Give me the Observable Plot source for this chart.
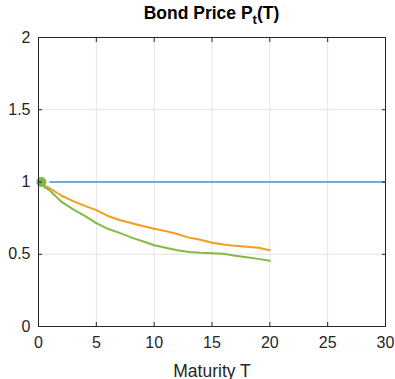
<!DOCTYPE html>
<html><head><meta charset="utf-8">
<script src="https://cdn.jsdelivr.net/npm/d3@7"></script>
<script src="https://cdn.jsdelivr.net/npm/@observablehq/plot@0.6"></script>
<style>
body{margin:0;background:#fff;font-family:"Liberation Sans",Arial,sans-serif;}
#wrap{position:relative;width:395px;height:379px;}
#title{position:absolute;left:38px;width:347px;top:3px;text-align:center;font-weight:bold;font-size:17.5px;color:#000;white-space:nowrap;}
#title sub{font-size:13px;vertical-align:-5px;line-height:0;}
</style></head>
<body><div id="wrap"><div id="title">Bond Price P<sub>t</sub>(T)</div></div>
<script>
const maturity = [0.25, 0.5, 1, 2, 3, 4, 5, 6, 7, 8, 9, 10, 11, 12, 13, 14, 15, 16, 17, 18, 19, 20];
const priceOrange = [1.0, 0.975, 0.955, 0.905, 0.868, 0.835, 0.805, 0.765, 0.737, 0.716, 0.695, 0.676, 0.66, 0.64, 0.615, 0.6, 0.58, 0.568, 0.558, 0.552, 0.545, 0.527];
const priceGreen = [1.0, 0.965, 0.94, 0.862, 0.81, 0.766, 0.715, 0.676, 0.648, 0.617, 0.59, 0.562, 0.545, 0.527, 0.516, 0.51, 0.507, 0.503, 0.49, 0.48, 0.468, 0.455];
const flatT = [1, 30];
const flatP = [1, 1];
const startT = [0.25];
const startP = [1];
const xTicks = [0, 5, 10, 15, 20, 25, 30];
const yTicks = [0, 0.5, 1, 1.5, 2];

const orange = maturity.map((t, i) => ({t, p: priceOrange[i]}));
const green = maturity.map((t, i) => ({t, p: priceGreen[i]}));
const flat = flatT.map((t, i) => ({t, p: flatP[i]}));
const start = startT.map((t, i) => ({t, p: startP[i]}));

const ink = "#262626";
const fmt = d => String(d);
const chart = Plot.plot({
  width: 395, height: 379,
  marginLeft: 38, marginRight: 10, marginTop: 37, marginBottom: 53,
  style: {fontFamily: "Liberation Sans, Arial, sans-serif", fontSize: "16px", color: ink, background: "transparent"},
  x: {domain: [0, 30], ticks: xTicks},
  y: {domain: [0, 2], ticks: yTicks},
  marks: [
    Plot.gridX(xTicks, {stroke: "#e3e3e3", strokeOpacity: 1}),
    Plot.gridY(yTicks, {stroke: "#e3e3e3", strokeOpacity: 1}),
    Plot.line(flat, {x: "t", y: "p", stroke: "#4592d3", strokeWidth: 1.5}),
    Plot.line(orange, {x: "t", y: "p", stroke: "#f39c1f", strokeWidth: 2}),
    Plot.line(green, {x: "t", y: "p", stroke: "#84ba44", strokeWidth: 2}),
    Plot.dot(start, {x: "t", y: "p", r: 5, fill: "#7cb842", stroke: "none"}),
    Plot.frame({stroke: ink, strokeWidth: 1}),
    Plot.axisX(xTicks, {anchor: "bottom", tickSize: -4, tickPadding: 14, tickFormat: fmt, stroke: ink, fill: ink, fontSize: 16,
      label: "Maturity T", labelAnchor: "center", labelArrow: "none", labelOffset: 50}),
    Plot.axisX(xTicks, {anchor: "top", tickSize: -4, tickFormat: () => "", stroke: ink, label: null}),
    Plot.axisY(yTicks, {anchor: "left", tickSize: -4, tickPadding: 12, tickFormat: fmt, stroke: ink, fill: ink, fontSize: 16, label: null}),
    Plot.axisY(yTicks, {anchor: "right", tickSize: -4, tickFormat: () => "", stroke: ink, label: null})
  ]
});
document.getElementById("wrap").prepend(chart);
chart.style.position = "absolute";
chart.style.left = "0"; chart.style.top = "0";
chart.querySelectorAll("g[aria-label='x-axis label'] text, g[aria-label='x-axis label']").forEach(e => e.setAttribute("font-size", "17.5"));
</script>
</body></html>
